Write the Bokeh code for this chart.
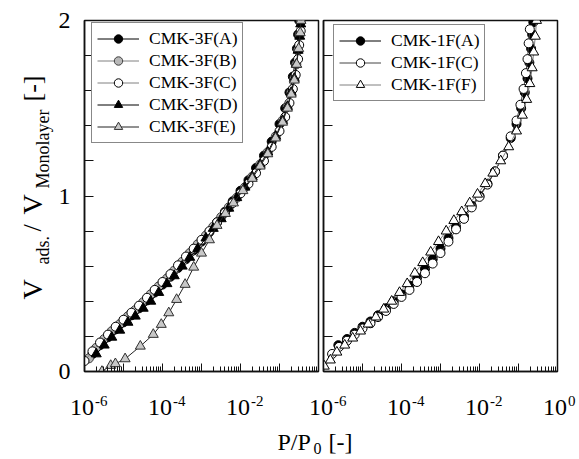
from math import pi, log10
from bokeh.plotting import figure
from bokeh.models import (FixedTicker, Label, Legend, LegendItem, Range1d,
                          CustomJSTickFormatter)
from bokeh.layouts import row
from bokeh.embed import file_html
from bokeh.resources import INLINE

FONT = "Liberation Serif"

# ---------------- data: left panel (CMK-3F) ----------------
left_names = ["CMK-3F(A)", "CMK-3F(B)", "CMK-3F(C)", "CMK-3F(D)", "CMK-3F(E)"]

a_x = [1.6e-6, 2.5e-6, 4.0e-6, 6.3e-6, 1.0e-5, 1.6e-5, 2.5e-5, 4.0e-5, 6.3e-5, 1.0e-4,
       1.6e-4, 2.5e-4, 4.0e-4, 6.3e-4, 1.0e-3, 1.6e-3, 2.5e-3, 4.0e-3, 6.3e-3, 1.0e-2,
       1.6e-2, 2.5e-2, 4.0e-2, 6.3e-2, 0.10, 0.14, 0.18, 0.22, 0.25, 0.28, 0.30, 0.32]
a_y = [0.10, 0.15, 0.195, 0.24, 0.28, 0.32, 0.36, 0.405, 0.45, 0.495,
       0.54, 0.59, 0.64, 0.69, 0.74, 0.795, 0.85, 0.91, 0.97, 1.03,
       1.09, 1.16, 1.23, 1.31, 1.41, 1.50, 1.59, 1.68, 1.76, 1.84, 1.92, 2.00]

b_x = [1.3e-6, 2.0e-6, 3.2e-6, 5.0e-6, 8.0e-6, 1.3e-5, 2.0e-5, 3.2e-5, 5.0e-5, 8.0e-5,
       1.3e-4, 2.0e-4, 3.2e-4, 5.0e-4, 8.0e-4, 1.3e-3, 2.0e-3, 3.2e-3, 5.0e-3, 8.0e-3,
       1.3e-2, 2.0e-2, 3.2e-2, 5.0e-2, 8.0e-2, 0.12, 0.16, 0.20, 0.24, 0.27, 0.30, 0.33, 0.35]
b_y = [0.075, 0.135, 0.185, 0.23, 0.27, 0.315, 0.35, 0.395, 0.44, 0.485,
       0.53, 0.575, 0.625, 0.675, 0.725, 0.775, 0.825, 0.88, 0.935, 0.99,
       1.05, 1.11, 1.18, 1.25, 1.34, 1.43, 1.51, 1.59, 1.67, 1.75, 1.83, 1.92, 1.99]

c_x = [1.0e-6, 1.6e-6, 2.5e-6, 4.0e-6, 6.3e-6, 1.0e-5, 1.6e-5, 2.5e-5, 4.0e-5, 6.3e-5,
       1.0e-4, 1.6e-4, 2.5e-4, 4.0e-4, 6.3e-4, 1.0e-3, 1.6e-3, 2.5e-3, 4.0e-3, 6.3e-3,
       1.0e-2, 1.6e-2, 2.5e-2, 4.0e-2, 6.3e-2, 0.10, 0.14, 0.18, 0.22, 0.26, 0.30, 0.32, 0.35]
c_y = [0.06, 0.115, 0.165, 0.21, 0.255, 0.295, 0.335, 0.375, 0.42, 0.465,
       0.51, 0.555, 0.605, 0.655, 0.70, 0.75, 0.80, 0.85, 0.905, 0.96,
       1.015, 1.07, 1.13, 1.20, 1.28, 1.37, 1.45, 1.53, 1.61, 1.69, 1.78, 1.86, 1.94]

d_x = [2.0e-6, 3.2e-6, 5.0e-6, 8.0e-6, 1.3e-5, 2.0e-5, 3.2e-5, 5.0e-5, 8.0e-5, 1.3e-4,
       2.0e-4, 3.2e-4, 5.0e-4, 8.0e-4, 1.3e-3, 2.0e-3, 3.2e-3, 5.0e-3, 8.0e-3, 1.3e-2,
       2.0e-2, 3.2e-2, 5.0e-2, 8.0e-2, 0.12, 0.16, 0.20, 0.24, 0.27, 0.30, 0.33, 0.35]
d_y = [0.10, 0.15, 0.195, 0.235, 0.28, 0.315, 0.36, 0.40, 0.45, 0.50,
       0.545, 0.60, 0.65, 0.70, 0.76, 0.815, 0.87, 0.93, 0.99, 1.05,
       1.11, 1.18, 1.25, 1.34, 1.43, 1.51, 1.59, 1.67, 1.75, 1.83, 1.91, 1.98]

e_x = [2.8e-6, 4.7e-6, 6.2e-6, 1.1e-5, 2.7e-5, 5.8e-5, 9.3e-5, 1.45e-4, 2.3e-4, 3.8e-4,
       6.3e-4, 1.0e-3, 1.6e-3, 2.5e-3, 4.1e-3, 6.6e-3, 1.15e-2, 2.0e-2, 3.2e-2, 5.0e-2,
       7.9e-2, 0.12, 0.16, 0.20, 0.24, 0.275, 0.31, 0.34, 0.355]
e_y = [0.0, 0.034, 0.044, 0.072, 0.144, 0.211, 0.268, 0.334, 0.41, 0.496,
       0.594, 0.674, 0.75, 0.832, 0.90, 0.96, 1.03, 1.10, 1.17, 1.24,
       1.33, 1.42, 1.50, 1.58, 1.66, 1.75, 1.84, 1.93, 2.0]

# ---------------- data: right panel (CMK-1F) ----------------
right_names = ["CMK-1F(A)", "CMK-1F(C)", "CMK-1F(F)"]

ra_x = [2.4e-6, 4.0e-6, 6.3e-6, 1.0e-5, 1.6e-5, 2.5e-5, 4.0e-5, 6.3e-5, 1.0e-4, 1.6e-4,
        2.5e-4, 4.0e-4, 6.3e-4, 1.0e-3, 1.6e-3, 2.5e-3, 4.0e-3, 6.3e-3, 1.0e-2, 1.6e-2,
        2.5e-2, 4.0e-2, 6.3e-2, 0.089, 0.117, 0.145, 0.17, 0.19, 0.21, 0.224, 0.24]
ra_y = [0.15, 0.185, 0.22, 0.255, 0.285, 0.32, 0.36, 0.40, 0.44, 0.49,
        0.535, 0.585, 0.64, 0.70, 0.76, 0.825, 0.885, 0.945, 1.00, 1.07,
        1.14, 1.23, 1.33, 1.41, 1.50, 1.59, 1.67, 1.76, 1.84, 1.92, 1.99]

rc_x = [1.66e-6, 2.5e-6, 4.0e-6, 6.3e-6, 1.0e-5, 1.6e-5, 2.5e-5, 4.0e-5, 6.3e-5, 1.0e-4,
        1.6e-4, 2.5e-4, 4.0e-4, 6.3e-4, 1.0e-3, 1.6e-3, 2.5e-3, 4.0e-3, 6.3e-3, 1.0e-2,
        1.6e-2, 2.5e-2, 4.0e-2, 6.3e-2, 0.089, 0.112, 0.135, 0.155, 0.17, 0.182, 0.195]
rc_y = [0.10, 0.14, 0.175, 0.21, 0.245, 0.275, 0.31, 0.345, 0.385, 0.425,
        0.465, 0.51, 0.56, 0.615, 0.675, 0.74, 0.81, 0.87, 0.935, 0.995,
        1.065, 1.14, 1.23, 1.34, 1.43, 1.52, 1.61, 1.70, 1.78, 1.87, 1.95]

rf_x = [1.05e-6, 1.5e-6, 2.2e-6, 3.5e-6, 5.6e-6, 8.9e-6, 1.4e-5, 2.2e-5, 3.5e-5, 5.6e-5,
        8.9e-5, 1.4e-4, 2.2e-4, 3.5e-4, 5.6e-4, 8.9e-4, 1.4e-3, 2.2e-3, 3.5e-3, 5.6e-3,
        8.9e-3, 1.4e-2, 2.2e-2, 3.5e-2, 5.6e-2, 8.9e-2, 0.126, 0.162, 0.195, 0.224,
        0.245, 0.27, 0.29]
rf_y = [0.03, 0.065, 0.11, 0.15, 0.19, 0.23, 0.27, 0.31, 0.355, 0.40,
        0.45, 0.50, 0.56, 0.62, 0.68, 0.74, 0.80, 0.86, 0.91, 0.96,
        1.01, 1.07, 1.13, 1.20, 1.28, 1.37, 1.46, 1.55, 1.64, 1.73,
        1.82, 1.91, 2.0]

# axis ticks / labels
x_decades = [1e-6, 1e-5, 1e-4, 1e-3, 1e-2, 1e-1, 1e0]
x_label_ticks_left = [1e-6, 1e-4, 1e-2]
x_label_ticks_right = [1e-6, 1e-4, 1e-2, 1e0]
x_label_exps_left = ["-6", "-4", "-2"]
x_label_exps_right = ["-6", "-4", "-2", "0"]
y_major = [0, 1, 2]
y_minor = [0.2, 0.4, 0.6, 0.8, 1.2, 1.4, 1.6, 1.8]
x_minor = [m * d for d in x_decades[:-1] for m in range(2, 10)]

# ---------------- layout constants (pixels) ----------------
H = 457
TOP = 20
FRAME_H = 351
FRAME_W = 234
L1_LEFT = 84          # left panel frame left edge
OVERLAP = 60          # right figure pulled left by this much
P2_BORDER_LEFT = 63
W1 = L1_LEFT + FRAME_W + 2
W2 = 318
R1_LEFT = W1 - OVERLAP + P2_BORDER_LEFT   # right panel frame left edge
TOTAL_W = W1 - OVERLAP + W2
FRAME_BOTTOM = TOP + FRAME_H
DECADE = FRAME_W / 6.0


def make_fig(width, bl, br, show_y_labels):
    p = figure(width=width, height=H, x_axis_type="log",
               x_range=Range1d(1e-6, 1), y_range=Range1d(0, 2),
               output_backend="svg", toolbar_location=None,
               min_border_left=bl, min_border_right=br,
               min_border_top=TOP, min_border_bottom=H - TOP - FRAME_H)
    p.grid.visible = False
    p.outline_line_color = "#111111"
    p.outline_line_width = 1.5
    for ax in (p.xaxis[0], p.yaxis[0]):
        ax.axis_line_color = "#111111"
        ax.axis_line_width = 1.5
        ax.major_tick_line_color = "#111111"
        ax.minor_tick_line_color = "#111111"
        ax.major_tick_out = 0
        ax.minor_tick_out = 0
    xa = p.xaxis[0]
    xa.ticker = FixedTicker(ticks=x_decades, minor_ticks=x_minor)
    xa.major_tick_in = 8
    xa.minor_tick_in = 5
    xa.formatter = CustomJSTickFormatter(code="return ''")
    xa.major_label_standoff = 0
    ya = p.yaxis[0]
    ya.ticker = FixedTicker(ticks=y_major, minor_ticks=y_minor)
    ya.major_tick_in = 9
    ya.minor_tick_in = 9
    if show_y_labels:
        ya.major_label_text_font = FONT
        ya.major_label_text_font_size = "24px"
        ya.major_label_text_color = "black"
        ya.major_label_standoff = 14
    else:
        ya.formatter = CustomJSTickFormatter(code="return ''")
        ya.major_label_standoff = 0
    return p


def add_series(p, xs, ys, marker, line_color, fill, outline, size):
    lr = p.line(xs, ys, line_color=line_color, line_width=1)
    sr = p.scatter(xs, ys, marker=marker, size=size, fill_color=fill,
                   line_color=outline, line_width=1)
    return [lr, sr]


def make_legend(items, loc):
    return Legend(items=items, location=loc, orientation="vertical",
                  label_text_font=FONT, label_text_font_size="17.5px",
                  label_text_color="black",
                  glyph_width=42, glyph_height=21, label_height=21,
                  label_standoff=10, spacing=1, padding=5, margin=0,
                  border_line_color="#111111", border_line_width=1.5,
                  background_fill_color="white", background_fill_alpha=1.0)


# ---------------- left panel ----------------
p1 = make_fig(W1, L1_LEFT, 2, True)
s_a = add_series(p1, a_x, a_y, "circle", "black", "black", "black", 9)
s_b = add_series(p1, b_x, b_y, "circle", "#808080", "#b8b8b8", "#404040", 9)
s_c = add_series(p1, c_x, c_y, "circle", "#808080", "white", "black", 9)
s_d = add_series(p1, d_x, d_y, "triangle", "black", "black", "black", 10)
s_e = add_series(p1, e_x, e_y, "triangle", "#222222", "#c8c8c8", "#303030", 10)
left_items = [LegendItem(label=n, renderers=r)
              for n, r in zip(left_names, [s_a, s_b, s_c, s_d, s_e])]
p1.add_layout(make_legend(left_items, (7, 228)))

# ---------------- right panel ----------------
p2 = make_fig(W2, P2_BORDER_LEFT, W2 - P2_BORDER_LEFT - FRAME_W, False)
p2.border_fill_alpha = 0
p2.margin = (0, 0, 0, -OVERLAP)
r_a = add_series(p2, ra_x, ra_y, "circle", "black", "black", "black", 9)
r_c = add_series(p2, rc_x, rc_y, "circle", "#444444", "white", "black", 9)
r_f = add_series(p2, rf_x, rf_y, "triangle", "#808080", "white", "black", 10)
right_items = [LegendItem(label=n, renderers=r)
               for n, r in zip(right_names, [r_a, r_c, r_f])]
p2.add_layout(make_legend(right_items, (10, 270)))

# ---------------- transparent text overlay (page pixel coordinates) ----------------
ov = figure(width=TOTAL_W, height=H, x_range=Range1d(0, TOTAL_W), y_range=Range1d(H, 0),
            output_backend="svg", toolbar_location=None, min_border=0,
            min_border_left=0, min_border_right=0, min_border_top=0, min_border_bottom=0,
            x_axis_location=None, y_axis_location=None)
ov.grid.visible = False
ov.outline_line_color = None
ov.background_fill_alpha = 0
ov.border_fill_alpha = 0
ov.margin = (0, 0, 0, -TOTAL_W)


def txt(x, y, s, size, angle=0.0, align="left"):
    ov.add_layout(Label(x=x, y=y, text=s, angle=angle, text_font=FONT,
                        text_font_size=size, text_align=align,
                        text_baseline="alphabetic", text_color="black"))


# x tick labels 10^n
for left_edge, ticks, exps in ((L1_LEFT, x_label_ticks_left, x_label_exps_left),
                               (R1_LEFT, x_label_ticks_right, x_label_exps_right)):
    for t, e in zip(ticks, exps):
        sx = left_edge + (log10(t) + 6) * DECADE
        txt(sx + 9.5, FRAME_BOTTOM + 35.5, "10", "24px", align="right")
        txt(sx + 10.5, FRAME_BOTTOM + 29.5, e, "15px")

# y-axis title: V_ads. / V_Monolayer [-]
ylab = [("V", 32, 299, "28px"), ("ads.", 42, 264, "18px"), ("/", 32, 231, "26px"),
        ("V", 32, 214, "28px"), ("Monolayer", 42, 188, "18px"), ("[-]", 32, 101, "26px")]
for s, x, y, fs in ylab:
    txt(x, y, s, fs, angle=pi / 2)

# x-axis title: P/P0 [-]
xlab = [("P/P", 277, 441, "24px"), ("0", 313, 448, "16px"), ("[-]", 328, 441, "24px")]
for s, x, y, fs in xlab:
    txt(x, y, s, fs)

# nested rows so the overlay's frame is not aligned with the panels' frames
layout = row(row(p1, p2), ov)
open("out.html", "w").write(file_html(layout, INLINE))
